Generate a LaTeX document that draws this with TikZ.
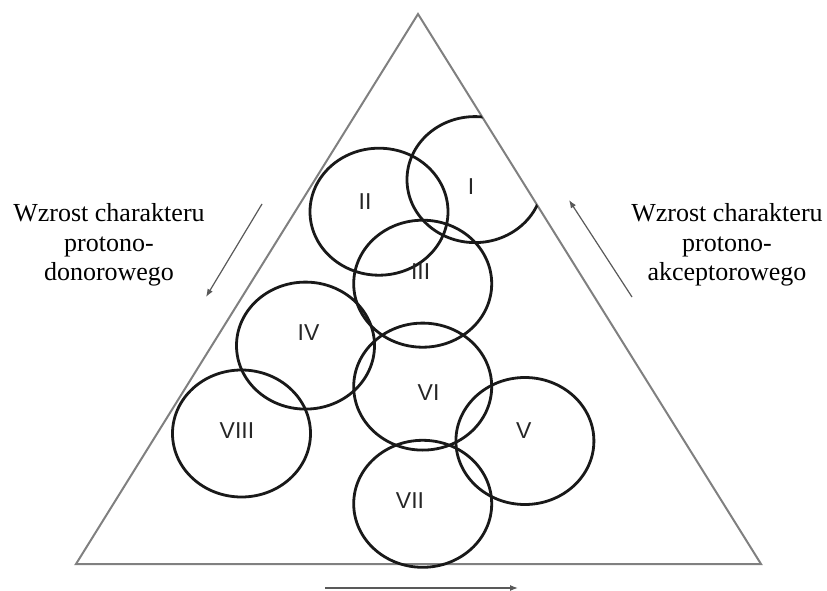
\documentclass[tikz,border=0pt]{standalone}
\usepackage{fontspec}
\setmainfont{Liberation Serif}
\newfontfamily\romanfont{Liberation Sans}
\usetikzlibrary{arrows.meta}
\begin{document}
\begin{tikzpicture}[x=1pt,y=-1pt,
  ring/.style={line width=2.8pt,black!90},
  num/.style={font=\romanfont\fontsize{23}{23}\selectfont,text=black!85},
  side/.style={font=\fontsize{26}{29.5}\selectfont,align=center},
  hint/.style={draw=black!65,line width=1.2pt,-{Latex[length=8pt,width=6pt]}}]
\useasboundingbox (0,0) rectangle (827,591);
% triangle
\coordinate (top) at (418,14);
\coordinate (bl) at (76,564);
\coordinate (br) at (761,564);
\draw[black!50,line width=2pt] (top) -- (br) -- (bl) -- cycle;
% circles
\begin{scope}
\clip (top) -- (br) -- (bl) -- cycle;
\draw[ring] (475,179.6) ellipse[x radius=68,y radius=63];
\end{scope}
\draw[ring] (379,211.7) ellipse[x radius=69,y radius=63.5];
\draw[ring] (422.7,283.7) ellipse[x radius=69,y radius=63.5];
\draw[ring] (305.5,345.6) ellipse[x radius=69,y radius=63.5];
\draw[ring] (422.7,386.6) ellipse[x radius=69,y radius=63.5];
\draw[ring] (241.5,433.5) ellipse[x radius=69,y radius=63.5];
\draw[ring] (524.9,441) ellipse[x radius=69,y radius=63.5];
\draw[ring] (422.7,503.8) ellipse[x radius=69,y radius=63.5];
\node[num] (nI) at (471,187){I};
\node[num] (nII) at (365,201.5){II};
\node[num] (nIII) at (420.6,272){III};
\node[num] (nIV) at (308.5,332.7){IV};
\node[num] (nV) at (523.8,431){V};
\node[num] (nVI) at (428.6,393){VI};
\node[num] (nVII) at (410,501){VII};
\node[num] (nVIII) at (237,431){VIII};
% side texts
\node[side] (donor) at (109,245){Wzrost charakteru\\protono-\\donorowego};
\node[side] (akcept) at (727,245){Wzrost charakteru\\protono-\\akceptorowego};
% arrows
\coordinate (la0) at (262,204);
\coordinate (la1) at (206,297);
\draw[hint] (la0) -- (la1);
\coordinate (ra0) at (632,297);
\coordinate (ra1) at (569,200);
\draw[hint] (ra0) -- (ra1);
\coordinate (ba0) at (325,588);
\coordinate (ba1) at (518,588);
\draw[hint] (ba0) -- (ba1);
\end{tikzpicture}
\end{document}
